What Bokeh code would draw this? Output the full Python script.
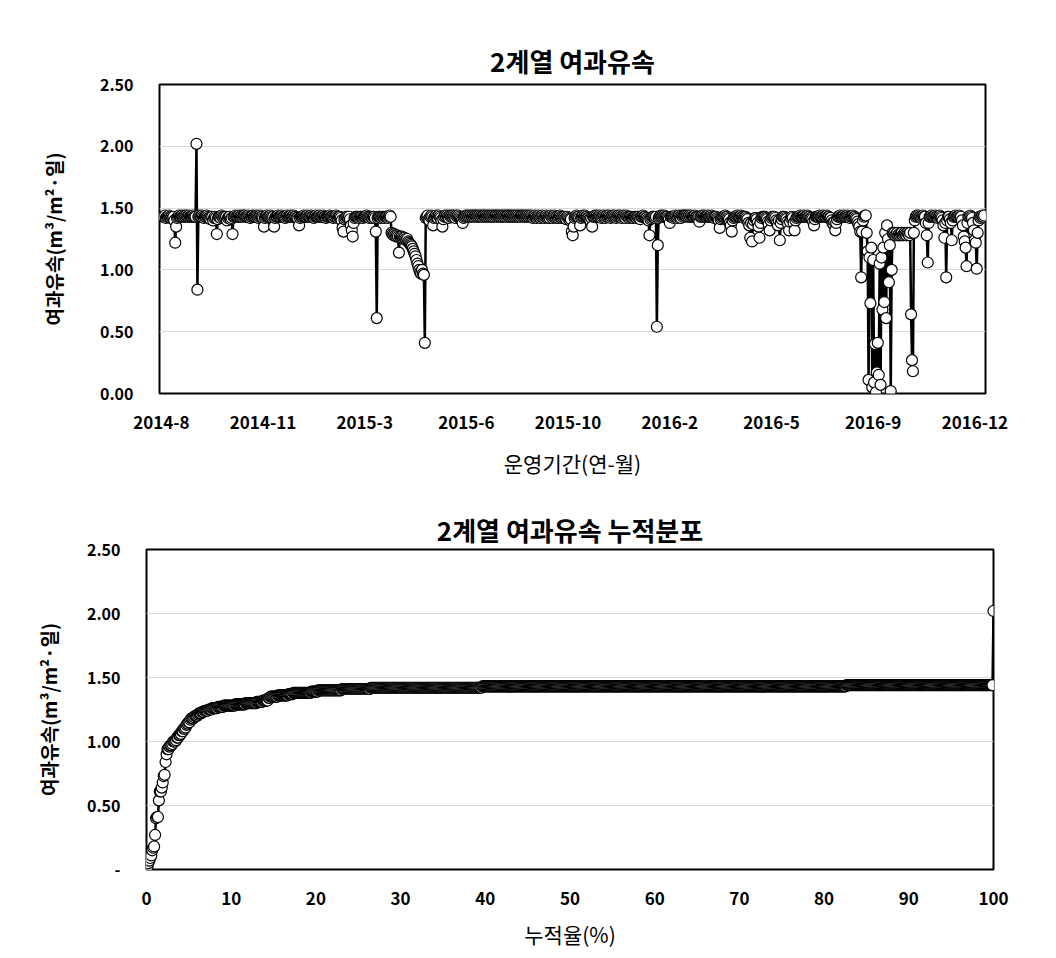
from bokeh.plotting import figure
from bokeh.models import FixedTicker, NumeralTickFormatter, Range1d
from bokeh.embed import file_html
from bokeh.resources import INLINE

# ---- daily filtration flux (m3/m2/day), 2014-8 .. 2016-12 ----
flow_2014 = [
    1.43, 1.43, 1.44, 1.42, 1.43, 1.43, 1.44, 1.43, 1.42, 1.43,
    1.42, 1.43, 1.40, 1.22, 1.35, 1.42, 1.43, 1.44, 1.43, 1.43,
    1.44, 1.43, 1.43, 1.44, 1.43, 1.44, 1.43, 1.43, 1.44, 1.43,
    1.43, 1.43, 1.44, 1.43, 1.43, 1.43, 2.02, 0.84, 1.43, 1.44,
    1.43, 1.43, 1.44, 1.43, 1.42, 1.43, 1.43, 1.44, 1.43, 1.42,
    1.42, 1.41, 1.43, 1.43, 1.40, 1.42, 1.43, 1.42, 1.29, 1.41,
    1.43, 1.43, 1.42, 1.44, 1.43, 1.42, 1.43, 1.42, 1.43, 1.40,
    1.42, 1.43, 1.43, 1.41, 1.42, 1.29, 1.43, 1.43, 1.44, 1.43,
    1.43, 1.43, 1.44, 1.43, 1.43, 1.44, 1.43, 1.44, 1.44, 1.43,
    1.43, 1.43, 1.44, 1.43, 1.42, 1.43, 1.43, 1.44, 1.43, 1.43,
    1.43, 1.44, 1.43, 1.42, 1.43, 1.44, 1.43, 1.43, 1.42, 1.35,
    1.42, 1.43, 1.44, 1.43, 1.43, 1.43, 1.44, 1.43, 1.42, 1.43,
    1.35, 1.42, 1.43, 1.43, 1.44, 1.43, 1.43, 1.43, 1.44, 1.43,
    1.43, 1.43, 1.42, 1.43, 1.44, 1.43, 1.43, 1.43, 1.44, 1.43,
    1.43, 1.44, 1.43, 1.43, 1.42, 1.42, 1.41, 1.36, 1.42, 1.43,
    1.43, 1.43, 1.44, 1.43, 1.43, 1.43, 1.44, 1.43, 1.43, 1.43,
    1.44, 1.43, 1.43, 1.42, 1.43, 1.44, 1.43, 1.43, 1.43, 1.44,
    1.43, 1.43, 1.43, 1.44, 1.43, 1.43, 1.42, 1.43, 1.43, 1.43,
    1.44, 1.43, 1.43, 1.43, 1.42, 1.43, 1.43, 1.44, 1.43, 1.42,
    1.43, 1.43, 1.42, 1.40, 1.34, 1.31, 1.41, 1.42, 1.43, 1.43,
    1.42, 1.43, 1.41, 1.36, 1.32, 1.27, 1.38, 1.42, 1.43, 1.43,
    1.43, 1.43, 1.42, 1.43, 1.43, 1.43, 1.42, 1.43, 1.43, 1.43,
    1.44, 1.43, 1.43, 1.42, 1.43, 1.43, 1.42, 1.43, 1.43, 1.42,
    1.31, 0.61, 1.42, 1.43, 1.43, 1.43, 1.42, 1.43, 1.43, 1.42,
    1.43, 1.43, 1.43, 1.42, 1.43, 1.44, 1.43,
]
flow_2015_decline = [
    1.30, 1.29, 1.28, 1.29, 1.28, 1.27, 1.28, 1.27, 1.14, 1.27,
    1.26, 1.27, 1.26, 1.25, 1.26, 1.25, 1.24, 1.25, 1.23, 1.22,
    1.21, 1.20, 1.19, 1.17, 1.15, 1.13, 1.11, 1.08, 1.05, 1.03,
    1.00, 0.98, 0.97, 1.00, 0.97, 0.96, 0.41,
]
flow_2015 = [
    1.42, 1.43, 1.44, 1.41, 1.40, 1.43, 1.44, 1.43, 1.36, 1.42,
    1.43, 1.44, 1.43, 1.42, 1.44, 1.43, 1.42, 1.40, 1.35, 1.41,
    1.43, 1.44, 1.43, 1.44, 1.43, 1.42, 1.44, 1.43, 1.44, 1.43,
    1.44, 1.43, 1.42, 1.44, 1.43, 1.44, 1.43, 1.42, 1.41, 1.40,
    1.38, 1.42, 1.43, 1.44, 1.43, 1.44, 1.43, 1.44, 1.43, 1.44,
    1.43, 1.44, 1.43, 1.44, 1.44, 1.43, 1.44, 1.43, 1.44, 1.43,
    1.44, 1.43, 1.44, 1.44, 1.43, 1.44, 1.43, 1.44, 1.43, 1.44,
    1.43, 1.44, 1.43, 1.44, 1.43, 1.44, 1.44, 1.43, 1.44, 1.43,
    1.44, 1.43, 1.44, 1.43, 1.44, 1.43, 1.44, 1.43, 1.44, 1.44,
    1.43, 1.44, 1.43, 1.44, 1.43, 1.44, 1.43, 1.44, 1.43, 1.44,
    1.43, 1.44, 1.43, 1.44, 1.44, 1.43, 1.44, 1.43, 1.44, 1.43,
    1.44, 1.43, 1.44, 1.43, 1.44, 1.43, 1.42, 1.43, 1.44, 1.43,
    1.42, 1.43, 1.44, 1.43, 1.42, 1.43, 1.44, 1.43, 1.42, 1.43,
    1.44, 1.43, 1.42, 1.43, 1.42, 1.44, 1.43, 1.42, 1.43, 1.44,
    1.43, 1.42, 1.43, 1.42, 1.43, 1.44, 1.43, 1.42, 1.43, 1.42,
    1.43, 1.42, 1.41, 1.43, 1.42, 1.41, 1.40,
]
flow_2016a = [
    1.41, 1.31, 1.28, 1.35, 1.42, 1.43, 1.44, 1.43, 1.43, 1.42,
    1.36, 1.42, 1.43, 1.44, 1.43, 1.44, 1.43, 1.43, 1.42, 1.42,
    1.41, 1.40, 1.42, 1.35, 1.43, 1.43, 1.44, 1.43, 1.44, 1.43,
    1.43, 1.44, 1.43, 1.42, 1.43, 1.44, 1.43, 1.42, 1.43, 1.44,
    1.43, 1.44, 1.43, 1.42, 1.43, 1.44, 1.43, 1.44, 1.43, 1.42,
    1.43, 1.44, 1.43, 1.44, 1.43, 1.42, 1.43, 1.44, 1.43, 1.42,
    1.44, 1.43, 1.43, 1.42, 1.43, 1.43, 1.42, 1.42, 1.43, 1.43,
    1.43, 1.42, 1.43, 1.43, 1.42, 1.41, 1.43, 1.43, 1.44, 1.43,
    1.43, 1.42, 1.42, 1.41, 1.40, 1.28, 1.41, 1.42, 1.43, 1.43,
    1.43, 1.42, 1.43, 0.54, 1.20, 1.42, 1.43, 1.44, 1.43, 1.44,
    1.43, 1.44, 1.43, 1.43, 1.43, 1.42, 1.41, 1.38, 1.43, 1.43,
    1.43, 1.42, 1.43, 1.44, 1.43, 1.42, 1.43, 1.44, 1.43, 1.42,
]
flow_2016b = [
    1.44, 1.43, 1.44, 1.44, 1.44, 1.43, 1.44, 1.43, 1.44, 1.43,
    1.44, 1.43, 1.43, 1.43, 1.44, 1.43, 1.43, 1.42, 1.43, 1.39,
    1.43, 1.43, 1.44, 1.43, 1.44, 1.43, 1.43, 1.43, 1.44, 1.43,
    1.43, 1.43, 1.44, 1.43, 1.43, 1.42, 1.43, 1.43, 1.42, 1.41,
    1.40, 1.34, 1.41, 1.42, 1.43, 1.43, 1.43, 1.44, 1.43, 1.43,
    1.42, 1.41, 1.38, 1.36, 1.31, 1.40, 1.42, 1.43, 1.43, 1.43,
    1.44, 1.43, 1.43, 1.43, 1.44, 1.43, 1.43, 1.42, 1.43, 1.43,
    1.42, 1.41, 1.38, 1.36, 1.26, 1.38, 1.23, 1.37, 1.40, 1.42,
    1.42, 1.41, 1.38, 1.35, 1.26, 1.38, 1.42, 1.43, 1.43, 1.43,
    1.43, 1.42, 1.41, 1.39, 1.37, 1.32, 1.40, 1.42, 1.43, 1.43,
    1.43, 1.42, 1.40, 1.38, 1.36, 1.40, 1.24, 1.38, 1.41, 1.43,
    1.43, 1.43, 1.42, 1.41, 1.39, 1.37, 1.32, 1.39, 1.42, 1.43,
    1.42, 1.38, 1.32, 1.40, 1.42, 1.43, 1.43, 1.43, 1.44, 1.43,
    1.43, 1.43, 1.44, 1.43, 1.43, 1.43, 1.44, 1.43, 1.43, 1.42,
    1.42, 1.41, 1.39, 1.36, 1.41, 1.43, 1.43, 1.43, 1.43, 1.44,
    1.43, 1.43, 1.43, 1.44, 1.43, 1.43, 1.43, 1.44, 1.43, 1.43,
    1.42, 1.42, 1.40, 1.38, 1.37, 1.39, 1.32, 1.38, 1.41, 1.43,
    1.43, 1.44, 1.43, 1.43, 1.43, 1.44, 1.43, 1.43, 1.43, 1.44,
    1.43, 1.43, 1.42, 1.43, 1.43, 1.44, 1.43, 1.43, 1.42, 1.41,
    1.39, 1.37, 1.35, 1.31, 0.94, 1.31, 1.40, 1.43, 1.44, 1.44,
]
flow_2016_sep = [
    1.30, 1.15, 0.11, 1.10, 0.73, 1.18, 0.05, 1.08, 0.09, 0.40,
    0.01, 0.17, 0.41, 0.15, 1.05, 0.07, 1.10, 0.68, 1.18, 0.74,
    1.30, 0.61, 1.36, 1.25, 0.90, 1.20, 0.02, 1.00, 1.30, 1.29,
    1.30, 1.28, 1.29, 1.30, 1.28, 1.29,
]
flow_2016_oct = [
    1.28, 1.29, 1.30, 1.28, 1.29, 1.30, 1.29, 1.28, 1.30, 1.29,
    1.28, 1.30, 0.64, 0.27, 0.18, 1.30, 1.40, 1.43, 1.44,
]
flow_2016_end = [
    1.43, 1.44, 1.43, 1.43, 1.42, 1.43, 1.44, 1.43, 1.43, 1.38,
    1.28, 1.06, 1.38, 1.43, 1.43, 1.44, 1.43, 1.43, 1.43, 1.44,
    1.43, 1.43, 1.42, 1.43, 1.44, 1.43, 1.42, 1.40, 1.36, 1.26,
    1.38, 0.94, 1.40, 1.43, 1.43, 1.41, 1.38, 1.24, 1.40, 1.43,
    1.43, 1.44, 1.43, 1.43, 1.43, 1.44, 1.43, 1.43, 1.40, 1.36,
    1.27, 1.23, 1.18, 1.03, 1.38, 1.43, 1.43, 1.44, 1.43, 1.42,
    1.38, 1.32, 1.24, 1.22, 1.01, 1.30, 1.40, 1.43, 1.42, 1.43,
    1.44, 1.43, 1.44,
]

flow = (flow_2014 + flow_2015_decline + flow_2015 + flow_2016a + flow_2016b
        + flow_2016_sep + flow_2016_oct + flow_2016_end)
days = list(range(len(flow)))

month_labels = ["2014-8", "2014-11", "2015-3", "2015-6", "2015-10",
                "2016-2", "2016-5", "2016-9", "2016-12"]
label_interval = 110  # days between category labels
label_offset = -2

y_ticks = [0.0, 0.5, 1.0, 1.5, 2.0, 2.5]
pct_ticks = [0, 10, 20, 30, 40, 50, 60, 70, 80, 90, 100]

# cumulative distribution of the same series
cdf_values = sorted(flow)
cdf_pct = [100.0 * i / (len(cdf_values) - 1) for i in range(len(cdf_values))]

FONT = "Noto Sans CJK KR"
YLABEL = "여과유속(m³/m²·일)"


def style(p, ylabel, xlabel, label_standoff_y, title_standoff, xlabel_standoff):
    p.title.align = "center"
    p.title.text_font = FONT
    p.title.text_font_size = "26px"
    p.title.text_font_style = "bold"
    p.title.text_color = "black"
    p.title.standoff = title_standoff
    p.outline_line_color = "black"
    p.outline_line_width = 2
    p.xgrid.visible = False
    p.ygrid.grid_line_color = "#d9d9d9"
    p.ygrid.grid_line_width = 1
    p.y_range = Range1d(0, 2.5)
    p.yaxis.ticker = FixedTicker(ticks=y_ticks)
    p.yaxis.formatter = NumeralTickFormatter(format="0.00")
    for ax in (p.xaxis[0], p.yaxis[0]):
        ax.axis_line_color = None
        ax.major_tick_line_color = None
        ax.minor_tick_line_color = None
        ax.major_label_text_font = FONT
        ax.major_label_text_font_style = "bold"
        ax.major_label_text_color = "black"
        ax.axis_label_text_font = FONT
        ax.axis_label_text_color = "black"
    p.yaxis.major_label_text_font_size = "16px"
    p.xaxis.major_label_text_font_size = "17px"
    p.yaxis.axis_label = ylabel
    p.yaxis.axis_label_text_font_size = "19px"
    p.yaxis.axis_label_text_font_style = "bold"
    p.yaxis.major_label_standoff = 20
    p.yaxis.axis_label_standoff = label_standoff_y
    p.xaxis.axis_label = xlabel
    p.xaxis.axis_label_text_font_size = "21px"
    p.xaxis.axis_label_text_font_style = "normal"
    p.xaxis.major_label_standoff = 16
    p.xaxis.axis_label_standoff = xlabel_standoff


# ---- top: time series ----
p1 = figure(width=1048, height=480, output_backend="svg", toolbar_location=None,
            title="2계열 여과유속",
            min_border_left=159, min_border_right=63,
            min_border_top=84, min_border_bottom=86)
p1.x_range = Range1d(-4, len(flow) + 0.5)
style(p1, YLABEL, "운영기간(연-월)", 30, 12, 16)
tick_pos = [label_interval * k + label_offset for k in range(len(month_labels))]
p1.xaxis.ticker = FixedTicker(ticks=tick_pos)
p1.xaxis.major_label_overrides = {t: lab for t, lab in zip(tick_pos, month_labels)}
p1.line(days, flow, line_color="black", line_width=2.5)
p1.scatter(days, flow, size=11, fill_color="white", line_color="black", line_width=1.2)

# ---- bottom: cumulative distribution ----
p2 = figure(width=1048, height=471, output_backend="svg", toolbar_location=None,
            title="2계열 여과유속 누적분포",
            min_border_left=146, min_border_right=55,
            min_border_top=69, min_border_bottom=80)
p2.x_range = Range1d(0, 100)
style(p2, YLABEL, "누적율(%)", 22, 3, 11)
p2.xaxis.ticker = FixedTicker(ticks=pct_ticks)
p2.yaxis.major_label_overrides = {0: "-"}
p2.line(cdf_pct, cdf_values, line_color="black", line_width=2.5)
p2.scatter(cdf_pct, cdf_values, size=11, fill_color="white", line_color="black", line_width=1.2)

open("out.html", "w").write(file_html([p1, p2], INLINE))
